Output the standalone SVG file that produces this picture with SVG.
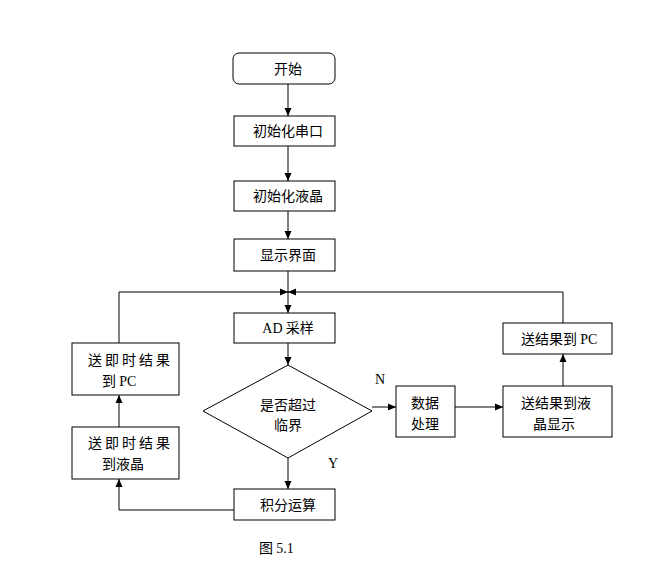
<svg xmlns="http://www.w3.org/2000/svg" width="655" height="584" viewBox="0 0 655 584">
<style>
.b{fill:#fff;stroke:#000;stroke-width:1}
.t{font-family:"Noto Sans CJK SC","Noto Sans",sans-serif;font-size:14px;fill:#000}
.s{font-family:"Liberation Serif",serif}
.c{stroke:#000;stroke-width:1;fill:none}
</style>
<defs>
<marker id="a" markerWidth="8" markerHeight="8" refX="8" refY="4" orient="auto" markerUnits="userSpaceOnUse">
<path d="M0,0.5 L8,4 L0,7.5 Z" fill="#000"/>
</marker>
</defs>
<rect width="655" height="584" fill="#fff"/>
<g id="connectors">
<line class="c" x1="288" y1="84" x2="288" y2="116" marker-end="url(#a)"/>
<line class="c" x1="288" y1="146" x2="288" y2="181" marker-end="url(#a)"/>
<line class="c" x1="288" y1="211" x2="288" y2="239" marker-end="url(#a)"/>
<line class="c" x1="288" y1="271" x2="288" y2="313" marker-end="url(#a)"/>
<line class="c" x1="288" y1="343" x2="288" y2="365" marker-end="url(#a)"/>
<line class="c" x1="288" y1="458" x2="288" y2="489" marker-end="url(#a)"/>
<polyline class="c" points="119,343 119,292 288,292" marker-end="url(#a)"/>
<polyline class="c" points="563,323 563,292 288,292" marker-end="url(#a)"/>
<line class="c" x1="119" y1="427" x2="119" y2="395" marker-end="url(#a)"/>
<polyline class="c" points="234,510 119,510 119,479" marker-end="url(#a)"/>
<line class="c" x1="372" y1="407" x2="396" y2="407" marker-end="url(#a)"/>
<line class="c" x1="455" y1="407" x2="503" y2="407" marker-end="url(#a)"/>
<line class="c" x1="563" y1="386" x2="563" y2="354" marker-end="url(#a)"/>
<text class="t s" x="375" y="384">N</text>
<text class="t s" x="328" y="468">Y</text>
</g>
<g id="start"><rect class="b" x="233" y="53" width="102" height="31" rx="6"/><text class="t" x="288" y="74" text-anchor="middle">开始</text></g>
<g id="init_serial"><rect class="b" x="234" y="116" width="101" height="30"/><text class="t" x="288" y="136" text-anchor="middle">初始化串口</text></g>
<g id="init_lcd"><rect class="b" x="234" y="181" width="101" height="30"/><text class="t" x="288" y="201" text-anchor="middle">初始化液晶</text></g>
<g id="display"><rect class="b" x="234" y="239" width="101" height="32"/><text class="t" x="288" y="260" text-anchor="middle">显示界面</text></g>
<g id="ad"><rect class="b" x="234" y="313" width="101" height="30"/><text class="t" x="288" y="333" text-anchor="middle"><tspan class="s">AD</tspan> 采样</text></g>
<g id="decision"><polygon class="b" points="288,365 372,411 288,458 203,411"/><text class="t" x="288" y="410" text-anchor="middle">是否超过</text><text class="t" x="288" y="430" text-anchor="middle">临界</text></g>
<g id="integral"><rect class="b" x="234" y="489" width="101" height="31"/><text class="t" x="288" y="510" text-anchor="middle">积分运算</text></g>
<g id="send_pc_now"><rect class="b" x="72" y="343" width="107" height="52"/><text class="t" x="88" y="365" letter-spacing="3">送即时结果</text><text class="t" x="102" y="386">到 <tspan class="s">PC</tspan></text></g>
<g id="send_lcd_now"><rect class="b" x="72" y="427" width="107" height="52"/><text class="t" x="88" y="448" letter-spacing="3">送即时结果</text><text class="t" x="102" y="469">到液晶</text></g>
<g id="process"><rect class="b" x="396" y="386" width="59" height="51"/><text class="t" x="425" y="408" text-anchor="middle">数据</text><text class="t" x="425" y="429" text-anchor="middle">处理</text></g>
<g id="send_lcd"><rect class="b" x="503" y="386" width="109" height="51"/><text class="t" x="521" y="408">送结果到液</text><text class="t" x="533" y="429">晶显示</text></g>
<g id="send_pc"><rect class="b" x="503" y="323" width="109" height="31"/><text class="t" x="521" y="344">送结果到 <tspan class="s">PC</tspan></text></g>
<text class="t" x="259" y="553">图 <tspan class="s">5.1</tspan></text>
</svg>
